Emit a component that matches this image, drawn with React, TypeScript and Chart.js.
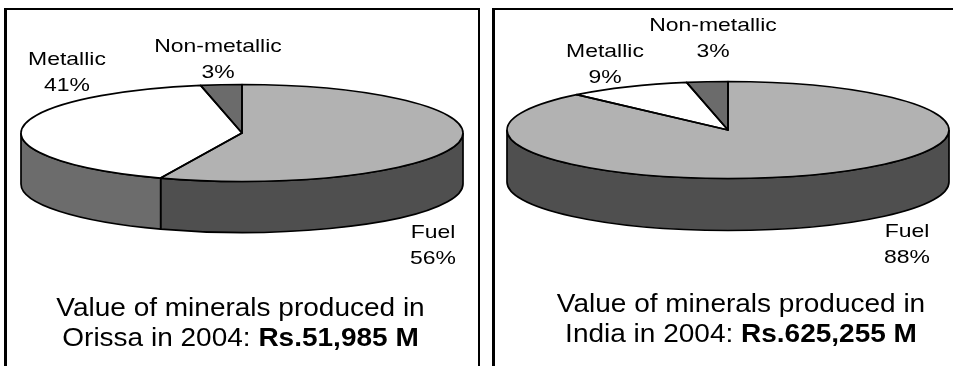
import React, { useEffect, useRef } from "react";
import { Chart, registerables } from "chart.js";

Chart.register(...registerables);

// Mineral output shares, in percent
const categories = ["Fuel", "Metallic", "Non-metallic"];
const orissaShares = [56, 41, 3];
const indiaShares = [88, 9, 3];

const topColors = ["#b2b2b2", "#ffffff", "#6b6b6b"];
const wallColors = ["#4f4f4f", "#6c6c6c", "#4f4f4f"];

const orissaCaption = ["Value of minerals produced in", "Orissa in 2004: ", "Rs.51,985 M"];
const indiaCaption = ["Value of minerals produced in", "India in 2004: ", "Rs.625,255 M"];

const FONT = '"Liberation Sans", Arial, sans-serif';
const TAU = Math.PI * 2;
const OUTLINE = 1.7;

type Pt = { x: number; y: number };
type DiscOpts = {
  stretch: number;
  depth: number;
  labelAt: Pt[];
  caption: string[];
  captionX: number;
  captionY: number[];
};

// Draws text squeezed or widened horizontally around its left edge
function wideText(ctx: CanvasRenderingContext2D, text: string, x: number, y: number, sx: number) {
  ctx.save();
  ctx.translate(x, y);
  ctx.scale(sx, 1);
  ctx.fillText(text, 0, 0);
  ctx.restore();
}

// Tilted disc: the pie's arcs are stretched sideways, with a wall below and outlines on top
const discPlugin = {
  id: "disc",
  beforeDatasetsDraw(chart: any, _args: any, o: DiscOpts) {
    const ctx: CanvasRenderingContext2D = chart.ctx;
    const arcs = chart.getDatasetMeta(0).data;
    const { x: cx, y: cy, outerRadius: ry } = arcs[0];
    const rx = ry * o.stretch;
    ctx.save();
    ctx.lineWidth = OUTLINE;
    ctx.strokeStyle = "#000";
    arcs.forEach((arc: any, i: number) => {
      // only the front half of the rim (0..PI) is visible
      for (const shift of [0, TAU]) {
        const a0 = Math.max(arc.startAngle + shift, 0);
        const a1 = Math.min(arc.endAngle + shift, Math.PI);
        if (a1 <= a0) continue;
        ctx.beginPath();
        ctx.ellipse(cx, cy, rx, ry, 0, a0, a1);
        ctx.ellipse(cx, cy + o.depth, rx, ry, 0, a1, a0, true);
        ctx.closePath();
        ctx.fillStyle = wallColors[i];
        ctx.fill();
        ctx.stroke();
      }
    });
    ctx.restore();
    ctx.save();
    ctx.translate(cx, 0);
    ctx.scale(o.stretch, 1);
    ctx.translate(-cx, 0);
  },
  afterDatasetsDraw(chart: any, _args: any, o: DiscOpts) {
    const ctx: CanvasRenderingContext2D = chart.ctx;
    ctx.restore();
    const arcs = chart.getDatasetMeta(0).data;
    const { x: cx, y: cy, outerRadius: ry } = arcs[0];
    const rx = ry * o.stretch;
    ctx.save();
    ctx.lineWidth = OUTLINE;
    ctx.strokeStyle = "#000";
    ctx.lineJoin = "round";
    arcs.forEach((arc: any) => {
      ctx.beginPath();
      ctx.moveTo(cx, cy);
      ctx.ellipse(cx, cy, rx, ry, 0, arc.startAngle, arc.endAngle);
      ctx.closePath();
      ctx.stroke();
    });

    // slice labels
    const values: number[] = chart.data.datasets[0].data;
    ctx.fillStyle = "#000";
    ctx.font = `18.5px ${FONT}`;
    const lw = 1.24;
    chart.data.labels.forEach((name: string, i: number) => {
      const at = o.labelAt[i];
      const pct = `${values[i]}%`;
      wideText(ctx, name, at.x - (ctx.measureText(name).width * lw) / 2, at.y, lw);
      wideText(ctx, pct, at.x - (ctx.measureText(pct).width * lw) / 2, at.y + 26, lw);
    });

    // caption, the amount in bold
    const cw = 1.12;
    ctx.font = `25px ${FONT}`;
    const first = o.caption[0];
    wideText(ctx, first, o.captionX - (ctx.measureText(first).width * cw) / 2, o.captionY[0], cw);
    const plainW = ctx.measureText(o.caption[1]).width * cw;
    ctx.font = `bold 25px ${FONT}`;
    const boldW = ctx.measureText(o.caption[2]).width * cw;
    const left = o.captionX - (plainW + boldW) / 2;
    wideText(ctx, o.caption[2], left + plainW, o.captionY[1], cw);
    ctx.font = `25px ${FONT}`;
    wideText(ctx, o.caption[1], left, o.captionY[1], cw);
    ctx.restore();
  },
};

type PanelProps = {
  left: number;
  width: number;
  shares: number[];
  padding: { left: number; right: number; top: number; bottom: number };
  stretch: number;
  depth: number;
  labelAt: Pt[];
  caption: string[];
  captionX: number;
  captionY: number[];
};

function DiscChart(p: PanelProps) {
  const ref = useRef<HTMLCanvasElement>(null);
  useEffect(() => {
    const chart = new Chart(ref.current!, {
      type: "pie",
      data: {
        labels: categories,
        datasets: [
          { data: p.shares, backgroundColor: topColors, borderWidth: 0, clip: false } as any,
        ],
      },
      options: {
        responsive: false,
        animation: false,
        layout: { padding: p.padding },
        plugins: {
          legend: { display: false },
          tooltip: { enabled: false },
          disc: {
            stretch: p.stretch,
            depth: p.depth,
            labelAt: p.labelAt,
            caption: p.caption,
            captionX: p.captionX,
            captionY: p.captionY,
          },
        } as any,
      },
      plugins: [discPlugin],
    });
    return () => chart.destroy();
  }, []);
  return (
    <canvas
      ref={ref}
      width={p.width}
      height={366}
      style={{ position: "absolute", left: p.left, top: 0, width: p.width, height: 366 }}
    />
  );
}

const frame = (left: number, width: number): React.CSSProperties => ({
  position: "absolute",
  left,
  top: 8,
  width,
  height: 370,
  boxSizing: "border-box",
  border: "2px solid #000",
  borderLeftWidth: 3,
  borderRightWidth: 2,
});

export default function App() {
  return (
    <div
      style={{
        position: "fixed",
        left: 0,
        top: 0,
        width: 953,
        height: 366,
        overflow: "hidden",
        background: "#fff",
      }}
    >
      <div style={frame(4, 476)} />
      <div style={frame(492, 470)} />
      <DiscChart
        left={0}
        width={480}
        shares={orissaShares}
        padding={{ left: 21, right: 17, top: 84.5, bottom: 184.5 }}
        stretch={221 / 48.5}
        depth={51}
        labelAt={[
          { x: 433, y: 238 },
          { x: 67, y: 65 },
          { x: 218, y: 52 },
        ]}
        caption={orissaCaption}
        captionX={240.5}
        captionY={[316, 346]}
      />
      <DiscChart
        left={480}
        width={473}
        shares={indiaShares}
        padding={{ left: 27, right: 4, top: 81.5, bottom: 187.5 }}
        stretch={221 / 48.5}
        depth={52}
        labelAt={[
          { x: 427, y: 237 },
          { x: 125, y: 57 },
          { x: 233, y: 31 },
        ]}
        caption={indiaCaption}
        captionX={261}
        captionY={[312, 342]}
      />
    </div>
  );
}
